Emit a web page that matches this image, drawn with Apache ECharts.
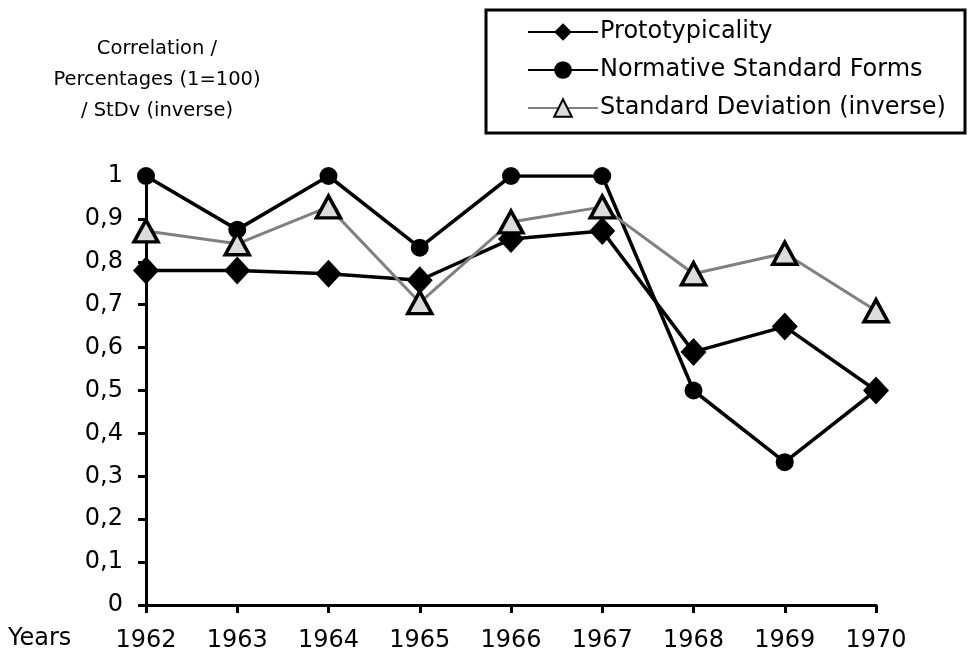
<!DOCTYPE html>
<html>
<head>
<meta charset="utf-8">
<script src="https://cdn.jsdelivr.net/npm/echarts@6/dist/echarts.min.js"></script>
<style>
  html, body { margin: 0; padding: 0; background: #fff; }
  #chart { width: 968px; height: 653px; }
</style>
</head>
<body>
<div id="chart"></div>
<script>
// years on the x axis
const years = ['1962', '1963', '1964', '1965', '1966', '1967', '1968', '1969', '1970'];

// values
const prototypicality = [0.78, 0.78, 0.772, 0.757, 0.853, 0.872, 0.59, 0.649, 0.5];
const normativeForms = [1, 0.875, 1, 0.833, 1, 1, 0.5, 0.333, 0.5];
const stdDevInverse = [0.872, 0.842, 0.928, 0.705, 0.893, 0.928, 0.772, 0.82, 0.686];

const FONT = 'DejaVu Sans';

const chart = echarts.init(document.getElementById('chart'), null, { renderer: 'canvas' });

chart.setOption({
  animation: false,
  backgroundColor: '#fff',
  textStyle: { fontFamily: FONT, color: '#000' },
  title: {
    text: 'Correlation /\nPercentages (1=100)\n/ StDv (inverse)',
    left: 152,
    top: 28,
    textAlign: 'center',
    textStyle: { fontFamily: FONT, fontSize: 19.5, fontWeight: 'normal', lineHeight: 31, color: '#000' }
  },
  graphic: [
    {
      type: 'rect',
      shape: { x: 486, y: 10, width: 479, height: 123 },
      style: { fill: 'none', stroke: '#000', lineWidth: 3 },
      z: 1
    },
    {
      type: 'text',
      left: 8,
      top: 627,
      style: { text: 'Years', font: '24px "DejaVu Sans"', fill: '#000' }
    }
  ],
  legend: {
    orient: 'vertical',
    left: 527,
    top: 20,
    padding: 0,
    itemWidth: 70,
    itemHeight: 22,
    itemGap: 14,
    textStyle: { fontFamily: FONT, fontSize: 24, color: '#000', lineHeight: 24, padding: [0, 0, 0, -3] },
    data: ['Prototypicality', 'Normative Standard Forms', 'Standard Deviation (inverse)']
  },
  grid: { left: 146, right: 92, top: 176, bottom: 47, containLabel: false },
  xAxis: {
    type: 'category',
    data: years,
    boundaryGap: false,
    axisLine: { lineStyle: { color: '#000', width: 3 } },
    axisTick: { length: 8, lineStyle: { color: '#000', width: 3 } },
    axisLabel: { fontFamily: FONT, fontSize: 24, color: '#000', margin: 24 },
    splitLine: { show: false }
  },
  yAxis: {
    type: 'value',
    min: 0,
    max: 1,
    interval: 0.1,
    axisLine: { show: true, lineStyle: { color: '#000', width: 3 } },
    axisTick: { show: true, length: 8, lineStyle: { color: '#000', width: 3 } },
    axisLabel: {
      fontFamily: FONT, fontSize: 24, color: '#000', margin: 23,
      formatter: v => String(Math.round(v * 10) / 10).replace('.', ',')
    },
    splitLine: { show: false }
  },
  series: [
    {
      name: 'Prototypicality',
      type: 'line',
      data: prototypicality,
      symbol: 'diamond',
      symbolSize: [26, 28],
      lineStyle: { color: '#000', width: 3.5 },
      itemStyle: { color: '#000', borderColor: '#000', borderWidth: 0 }
    },
    {
      name: 'Normative Standard Forms',
      type: 'line',
      data: normativeForms,
      symbol: 'circle',
      symbolSize: 18,
      lineStyle: { color: '#000', width: 3.5 },
      itemStyle: { color: '#000', borderColor: '#000', borderWidth: 0 }
    },
    {
      name: 'Standard Deviation (inverse)',
      type: 'line',
      data: stdDevInverse,
      symbol: 'triangle',
      symbolSize: [24, 22],
      lineStyle: { color: '#808080', width: 3 },
      itemStyle: { color: '#dcdcdc', borderColor: '#000', borderWidth: 3.5 }
    }
  ]
});
</script>
</body>
</html>
